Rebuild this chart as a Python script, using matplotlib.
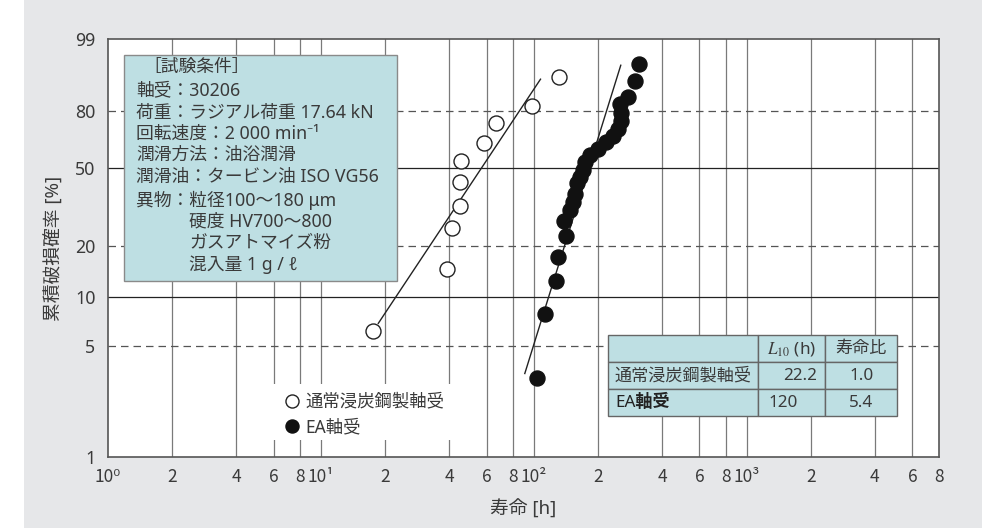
import numpy as np
import matplotlib
matplotlib.use('Agg')
import matplotlib.pyplot as plt
from matplotlib import transforms as mtransforms
from matplotlib.patches import Rectangle
from matplotlib.ticker import NullLocator

# ---------------- data ----------------
std_life = [17.6, 39.2, 41.1, 45.0, 45.0, 45.3, 58.3, 66.1, 97.9, 130.6]
std_prob = [6.18, 14.7, 25.1, 33.0, 43.1, 53.9, 63.5, 73.9, 82.4, 93.0]

ea_life = [103.8, 112.6, 127.8, 130.1, 141.3, 139.1, 147.6, 152.0, 155.8, 158.7,
           164.4, 170.4, 173.5, 183.2, 199.8, 217.8, 234.9, 248.8, 256.1, 257.5,
           253.4, 277.2, 298.1, 311.2]
ea_prob = [3.16, 7.83, 12.44, 17.10, 22.70, 27.51, 31.29, 34.64, 38.03, 42.62,
           45.88, 49.12, 53.21, 56.92, 60.12, 63.91, 67.14, 70.89, 75.02, 78.99,
           83.15, 86.11, 91.91, 95.94]

std_fit_life = [18.6, 107.5]
std_fit_prob = [6.87, 92.3]
ea_fit_life = [90.7, 256.1]
ea_fit_prob = [3.35, 95.7]

series_labels = ['通常浸炭鋼製軸受', 'EA軸受']

xtick_vals = [1, 2, 4, 6, 8, 10, 20, 40, 60, 80, 100, 200, 400, 600, 800,
              1000, 2000, 4000, 6000, 8000]
xtick_labels = ['10⁰', '2', '4', '6', '8', '10¹', '2', '4', '6', '8', '10²',
                '2', '4', '6', '8', '10³', '2', '4', '6', '8']
ytick_vals = [1, 5, 10, 20, 50, 80, 99]
ytick_labels = ['1', '5', '10', '20', '50', '80', '99']
ygrid_solid = [10, 50]
ygrid_dashed = [5, 20, 80]

cond_lines = ['［試験条件］', '軸受：30206', '荷重：ラジアル荷重 17.64 kN',
              '回転速度：2 000 min⁻¹', '潤滑方法：油浴潤滑',
              '潤滑油：タービン油 ISO VG56', '異物：粒径100～180 μm',
              '硬度 HV700～800', 'ガスアトマイズ粉', '混入量 1 g / ℓ']

table_header = ['', r'$L_{10}$ (h)', '寿命比']
table_names = ['通常浸炭鋼製軸受', 'EA軸受']
table_l10 = ['22.2', '120']
table_ratio = ['1.0', '5.4']

xlabel = '寿命 [h]'
ylabel = '累積破損確率 [%]'

# ---------------- style ----------------
plt.rcParams['font.family'] = ['Noto Sans', 'Noto Sans CJK JP', 'DejaVu Sans']
plt.rcParams['mathtext.fontset'] = 'stix'
TXT = '#3a3a3a'
BOX = '#bedfe3'
W, H = 982, 528

fig = plt.figure(figsize=(W / 100, H / 100), dpi=100, facecolor='#e6e7e9')
px = mtransforms.Affine2D().scale(1 / W, -1 / H).translate(0, 1) + fig.transFigure
fig.add_artist(Rectangle((0, 0), 24, H, transform=px, facecolor='white',
                         edgecolor='none', zorder=-5))

ax_l, ax_r, ax_t, ax_b = 108, 939, 39.3, 456.7
ax = fig.add_axes([ax_l / W, (H - ax_b) / H, (ax_r - ax_l) / W, (ax_b - ax_t) / H])
ax.set_facecolor('white')


def fwd(p):
    p = np.clip(np.asarray(p, dtype=float), 1e-6, 99.99999)
    return np.log(-np.log(1 - p / 100.0))


def inv(w):
    return 100.0 * (1 - np.exp(-np.exp(np.asarray(w, dtype=float))))


ax.set_xscale('log')
ax.set_yscale('function', functions=(fwd, inv))
ax.set_xlim(1, 8000)
ax.set_ylim(1, 99)

ax.set_xticks(xtick_vals)
ax.set_xticklabels(xtick_labels, family=['Liberation Sans Narrow', 'Noto Sans CJK JP', 'DejaVu Sans'],
                   fontsize=12.5, color=TXT)
ax.xaxis.set_minor_locator(NullLocator())
ax.set_yticks(ytick_vals)
ax.set_yticklabels(ytick_labels, fontsize=12.8, color=TXT)
ax.yaxis.set_minor_locator(NullLocator())
ax.tick_params(axis='x', length=0, pad=8)
ax.tick_params(axis='y', length=0, pad=9)

for s in ax.spines.values():
    s.set_color('#555555')
    s.set_linewidth(1.2)

# grid
for v in xtick_vals[1:-1]:
    ax.axvline(v, color='#7a7a7a', lw=0.9, zorder=1)
for v in ygrid_solid:
    ax.axhline(v, color='#222222', lw=0.9, zorder=1)
for v in ygrid_dashed:
    ax.axhline(v, color='#555555', lw=0.9, ls=(0, (6, 4)), zorder=1)

# fit lines and data
ax.plot(std_fit_life, std_fit_prob, color='#222222', lw=1.0, zorder=3)
ax.plot(ea_fit_life, ea_fit_prob, color='#222222', lw=1.0, zorder=3)
h1, = ax.plot(std_life, std_prob, 'o', mfc='white', mec='#222222', mew=1.0, ms=10.8,
              zorder=4, label=series_labels[0])
h2, = ax.plot(ea_life, ea_prob, 'o', mfc='#111111', mec='#111111', mew=1.0, ms=10.8,
              zorder=4, label=series_labels[1])

ax.set_xlabel(xlabel, fontsize=13.5, color=TXT, labelpad=10)
ax.set_ylabel(ylabel, fontsize=13.5, color=TXT, labelpad=8)

# conditions box
ax.add_patch(Rectangle((124, 55), 273, 226, transform=px, facecolor=BOX,
                       edgecolor='#8a8a8a', lw=1.0, zorder=6, clip_on=False))
line_y = [66.7, 90, 112.7, 133.3, 155, 176.7, 200, 221.7, 242.7, 265]
line_x = [143, 136, 136, 136, 136, 136, 136, 189, 189, 189]
for s, x, y in zip(cond_lines, line_x, line_y):
    ax.text(x, y, s, transform=px, fontsize=12.8, color=TXT, ha='left', va='center',
            zorder=7, clip_on=False)

# legend
ax.add_patch(Rectangle((268, 384), 184, 56, transform=px, facecolor='white',
                       edgecolor='none', zorder=5, clip_on=False))
leg = ax.legend(handles=[h1, h2], labels=series_labels, loc='center left',
                bbox_to_anchor=(283.6, 414.5), bbox_transform=px, frameon=False,
                fontsize=12.5, handlelength=1.0, handletextpad=0.25, labelspacing=0.45,
                borderpad=0, borderaxespad=0, markerscale=0.87)
for t in leg.get_texts():
    t.set_color(TXT)
leg.set_zorder(7)

# table
col_x = [608.3, 758.3, 825, 897.3]
row_y = [335, 362.3, 389.3, 416]
for r in range(3):
    for c in range(3):
        ax.add_patch(Rectangle((col_x[c], row_y[r]), col_x[c + 1] - col_x[c],
                               row_y[r + 1] - row_y[r], transform=px, facecolor=BOX,
                               edgecolor='#666666', lw=1.0, zorder=6, clip_on=False))
row_c = [(row_y[i] + row_y[i + 1]) / 2 for i in range(3)]
ax.text((col_x[1] + col_x[2]) / 2, row_c[0], table_header[1], transform=px,
        fontsize=12.3, color=TXT, ha='center', va='center', zorder=7)
ax.text((col_x[2] + col_x[3]) / 2, row_c[0], table_header[2], transform=px,
        fontsize=12.3, color=TXT, ha='center', va='center', zorder=7)
for i in range(2):
    ax.text(615, row_c[i + 1], table_names[i], transform=px, fontsize=12.3,
            color='#222222' if i == 1 else TXT, ha='left', va='center', zorder=7,
            fontweight='bold' if i == 1 else 'normal')
ax.text(817, row_c[1], table_l10[0], transform=px, fontsize=12.3, color=TXT,
        ha='right', va='center', zorder=7)
ax.text(768, row_c[2], table_l10[1], transform=px, fontsize=12.3, color=TXT,
        ha='left', va='center', zorder=7)
for i in range(2):
    ax.text((col_x[2] + col_x[3]) / 2, row_c[i + 1], table_ratio[i], transform=px,
            fontsize=12.3, color=TXT, ha='center', va='center', zorder=7)

fig.savefig('out.png', dpi=100, facecolor=fig.get_facecolor())
